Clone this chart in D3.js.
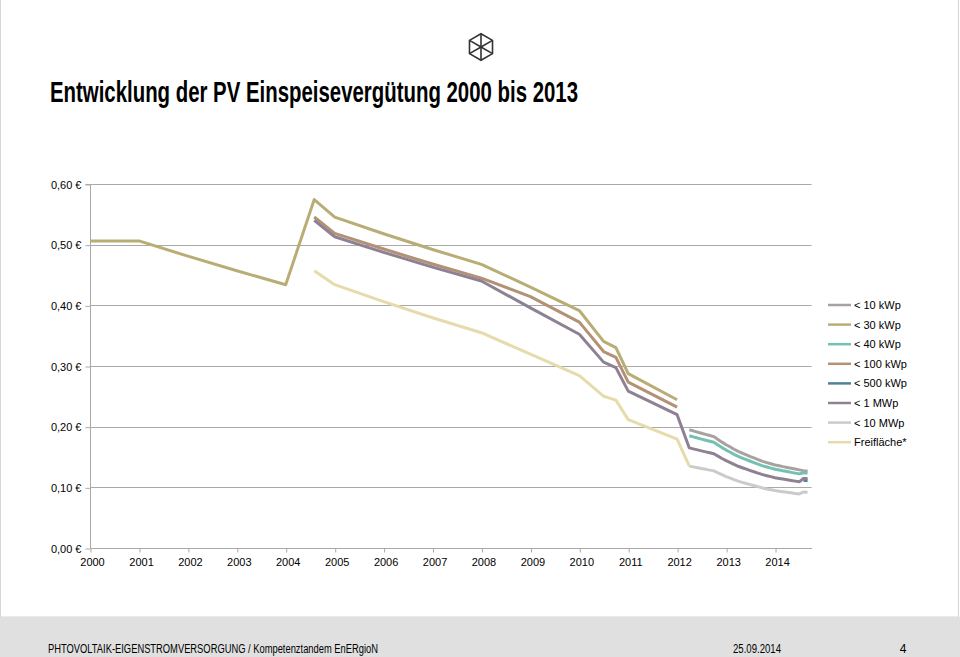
<!DOCTYPE html>
<html><head><meta charset="utf-8">
<script src="https://cdn.jsdelivr.net/npm/d3@7"></script>
<style>
html,body{margin:0;padding:0;background:#fff;}
svg{display:block;}
text{font-family:"Liberation Sans Narrow","Arial Narrow","Liberation Sans",Arial,sans-serif;}
</style></head>
<body>
<svg id="chart" width="960" height="657"></svg>
<script>
// ---- data ----
const titleText = "Entwicklung der PV Einspeisevergütung 2000 bis 2013";
const footerLeft = "PHTOVOLTAIK-EIGENSTROMVERSORGUNG / Kompetenztandem EnERgioN";
const footerDate = "25.09.2014";
const footerPage = "4";

const seriesNames = ["< 10 kWp", "< 30 kWp", "< 40 kWp", "< 100 kWp", "< 500 kWp", "< 1 MWp", "< 10 MWp", "Freifläche*"];
const seriesColors = ["#a7a2a0", "#b9ad76", "#74c0b2", "#b39175", "#4f8296", "#8f8194", "#cbcbcb", "#e6dbac"];

const yTicks = [0, 0.1, 0.2, 0.3, 0.4, 0.5, 0.6];
const yTickLabels = ["0,00 €", "0,10 €", "0,20 €", "0,30 €", "0,40 €", "0,50 €", "0,60 €"];
const xYears = [2000, 2001, 2002, 2003, 2004, 2005, 2006, 2007, 2008, 2009, 2010, 2011, 2012, 2013, 2014];

// dates of tariff changes up to 2012
const earlyDates = ["2000-01-01","2001-01-01","2002-01-01","2003-01-01","2004-01-01","2004-08-01",
  "2005-01-01","2006-01-01","2007-01-01","2008-01-01","2009-01-01","2010-01-01","2010-07-01",
  "2010-10-01","2011-01-01","2012-01-01"];
const early10k   = [null,null,null,null,null,null,null,null,null,null,null,null,null,null,null,null];
const early30k   = [0.5062,0.5062,0.4810,0.4570,0.4340,0.5744,0.5453,0.5180,0.4921,0.4675,0.4301,0.3914,0.3405,0.3303,0.2874,0.2443];
const early40k   = [null,null,null,null,null,null,null,null,null,null,null,null,null,null,null,null];
const early100k  = [null,null,null,null,null,0.5456,0.5187,0.4928,0.4681,0.4448,0.4143,0.3723,0.3238,0.3142,0.2733,0.2323];
const early500k  = [null,null,null,null,null,null,null,null,null,null,null,null,null,null,null,null];
const early1M    = [null,null,null,null,null,0.5400,0.5130,0.4874,0.4630,0.4401,0.3958,0.3523,0.3064,0.2973,0.2586,0.2198];
const early10M   = [null,null,null,null,null,null,null,null,null,null,null,null,null,null,null,null];
const earlyFrei  = [null,null,null,null,null,0.4570,0.4340,0.4060,0.3796,0.3549,0.3194,0.2843,0.2502,0.2437,0.2116,0.1794];

// monthly dates April 2012 - September 2014
const monthDates = ["2012-04-01","2012-05-01","2012-06-01","2012-07-01","2012-08-01","2012-09-01","2012-10-01","2012-11-01","2012-12-01",
  "2013-01-01","2013-02-01","2013-03-01","2013-04-01","2013-05-01","2013-06-01","2013-07-01","2013-08-01","2013-09-01","2013-10-01","2013-11-01","2013-12-01",
  "2014-01-01","2014-02-01","2014-03-01","2014-04-01","2014-05-01","2014-06-01","2014-07-01","2014-08-01","2014-09-01"];
const month10k  = [0.1950,0.1931,0.1911,0.1892,0.1873,0.1854,0.1836,0.1790,0.1745,
  0.1702,0.1664,0.1628,0.1592,0.1563,0.1535,0.1507,0.1480,0.1454,0.1427,0.1407,0.1388,
  0.1368,0.1355,0.1341,0.1328,0.1315,0.1301,0.1288,0.1275,0.1269];
const month30k  = Array(30).fill(null);
const month40k  = [0.1850,0.1832,0.1813,0.1795,0.1777,0.1759,0.1742,0.1698,0.1655,
  0.1614,0.1578,0.1544,0.1510,0.1483,0.1456,0.1430,0.1404,0.1379,0.1354,0.1335,0.1317,
  0.1298,0.1285,0.1272,0.1260,0.1247,0.1234,0.1222,0.1240,0.1236];
const month100k = Array(30).fill(null);
const month500k = [null,null,null,null,null,null,null,null,null,
  null,null,null,null,null,null,null,null,null,null,null,null,
  null,null,null,null,null,null,null,0.1115,0.1110];
const month1M   = [0.1650,0.1634,0.1617,0.1601,0.1585,0.1569,0.1553,0.1514,0.1476,
  0.1440,0.1408,0.1377,0.1347,0.1323,0.1299,0.1276,0.1253,0.1231,0.1209,0.1192,0.1176,
  0.1159,0.1147,0.1136,0.1125,0.1114,0.1102,0.1091,0.1145,0.1145];
const month10M  = [0.1350,0.1337,0.1323,0.1310,0.1297,0.1284,0.1271,0.1239,0.1208,
  0.1178,0.1151,0.1126,0.1102,0.1082,0.1063,0.1044,0.1025,0.1007,0.0988,0.0974,0.0961,
  0.0947,0.0937,0.0928,0.0919,0.0910,0.0900,0.0891,0.0923,0.0917];
const monthFrei = [0.1350,null,null,null,null,null,null,null,null,
  null,null,null,null,null,null,null,null,null,null,null,null,
  null,null,null,null,null,null,null,null,null];

const earlyValues = [early10k, early30k, early40k, early100k, early500k, early1M, early10M, earlyFrei];
const monthValues = [month10k, month30k, month40k, month100k, month500k, month1M, month10M, monthFrei];

// ---- build ----
const parse = d3.timeParse("%Y-%m-%d");
const allDates = earlyDates.concat(monthDates).map(parse);
const series = seriesNames.map((name, i) => {
  const vals = earlyValues[i].concat(monthValues[i]);
  return {name, color: seriesColors[i],
    points: allDates.map((d, j) => ({date: d, value: vals[j]})).filter(p => p.value !== null)};
});

const svg = d3.select("#chart");

// panel & footer
svg.append("rect").attr("x", 0.5).attr("y", -2).attr("width", 958).attr("height", 619)
  .attr("fill", "#fff").attr("stroke", "#d6d6d6");
svg.append("rect").attr("x", 0).attr("y", 617).attr("width", 960).attr("height", 40).attr("fill", "#e0e0e0");

svg.append("text").attr("x", 48).attr("y", 653).attr("font-size", 12).attr("fill", "#000")
  .attr("textLength", 330).attr("lengthAdjust", "spacingAndGlyphs").text(footerLeft);
svg.append("text").attr("x", 733).attr("y", 653).attr("font-size", 12).attr("fill", "#000")
  .attr("textLength", 48).attr("lengthAdjust", "spacingAndGlyphs").text(footerDate);
svg.append("text").attr("x", 903).attr("y", 653).attr("font-size", 12).attr("fill", "#000")
  .attr("text-anchor", "middle").text(footerPage);

// logo
const lc = [481, 47], lr = 13.3;
const hexPts = d3.range(6).map(k => {
  const a = -Math.PI / 2 + k * Math.PI / 3;
  return [lc[0] + lr * Math.cos(a), lc[1] + lr * Math.sin(a)];
});
const logo = svg.append("g").attr("fill", "none").attr("stroke", "#333").attr("stroke-width", 1.6);
logo.append("polygon").attr("points", hexPts.map(p => p.join(",")).join(" "));
hexPts.forEach(p => logo.append("line").attr("x1", lc[0]).attr("y1", lc[1]).attr("x2", p[0]).attr("y2", p[1]));

// title
svg.append("text").attr("x", 50).attr("y", 102).attr("font-size", 29).attr("font-weight", "bold")
  .attr("fill", "#000").attr("textLength", 528).attr("lengthAdjust", "spacingAndGlyphs").text(titleText);

// scales
const x = d3.scaleTime().domain([parse("2000-01-01"), parse("2014-10-01")]).range([90, 811.6]);
const y = d3.scaleLinear().domain([0, 0.6]).range([548, 184]);

// gridlines
const grid = svg.append("g");
grid.selectAll("line").data(yTicks.filter(t => t > 0)).join("line")
  .attr("x1", 90).attr("x2", 811.6)
  .attr("y1", d => Math.round(y(d)) + 0.5).attr("y2", d => Math.round(y(d)) + 0.5)
  .attr("stroke", "#a9a9a9").attr("stroke-width", 1);

// y axis
const yAxis = d3.axisLeft(y).tickValues(yTicks).tickSize(5).tickPadding(4)
  .tickFormat((d, i) => yTickLabels[i]);
const gy = svg.append("g").attr("transform", "translate(90.5,0.5)").call(yAxis);
gy.select(".domain").attr("stroke", "#a9a9a9").attr("d", `M-5,${y(0.6)}H0V${y(0)}`);
gy.selectAll(".tick line").attr("stroke", "#a9a9a9");
gy.selectAll(".tick text").attr("font-size", 11).attr("fill", "#000")
  .style("font-family", '"Liberation Sans Narrow","Arial Narrow","Liberation Sans",Arial,sans-serif');

// x axis
const xAxis = d3.axisBottom(x).tickValues(xYears.map(yr => new Date(yr, 0, 1))).tickSize(4).tickPadding(6)
  .tickFormat(d3.timeFormat("%Y"));
const gx = svg.append("g").attr("transform", "translate(0.5,548.5)").call(xAxis);
gx.select(".domain").attr("stroke", "#a9a9a9").attr("d", `M90,0H811.6`);
gx.selectAll(".tick line").attr("stroke", "#a9a9a9");
gx.selectAll(".tick text").attr("font-size", 11).attr("fill", "#000").attr("dx", 1.5)
  .style("font-family", '"Liberation Sans Narrow","Arial Narrow","Liberation Sans",Arial,sans-serif');

// lines
const line = d3.line().x(p => x(p.date)).y(p => y(p.value));
svg.append("g").selectAll("path").data(series).join("path")
  .attr("d", s => line(s.points))
  .attr("fill", "none").attr("stroke", s => s.color).attr("stroke-width", 3)
  .attr("stroke-linejoin", "round");

// legend
const lg = svg.append("g").selectAll("g").data(series).join("g")
  .attr("transform", (s, i) => `translate(828,${305 + i * 19.6})`);
lg.append("line").attr("x1", 0).attr("x2", 23).attr("y1", 0).attr("y2", 0)
  .attr("stroke", s => s.color).attr("stroke-width", 2.5);
lg.append("text").attr("x", 26).attr("y", 4).attr("font-size", 11).attr("fill", "#000").text(s => s.name);
</script>
</body></html>
